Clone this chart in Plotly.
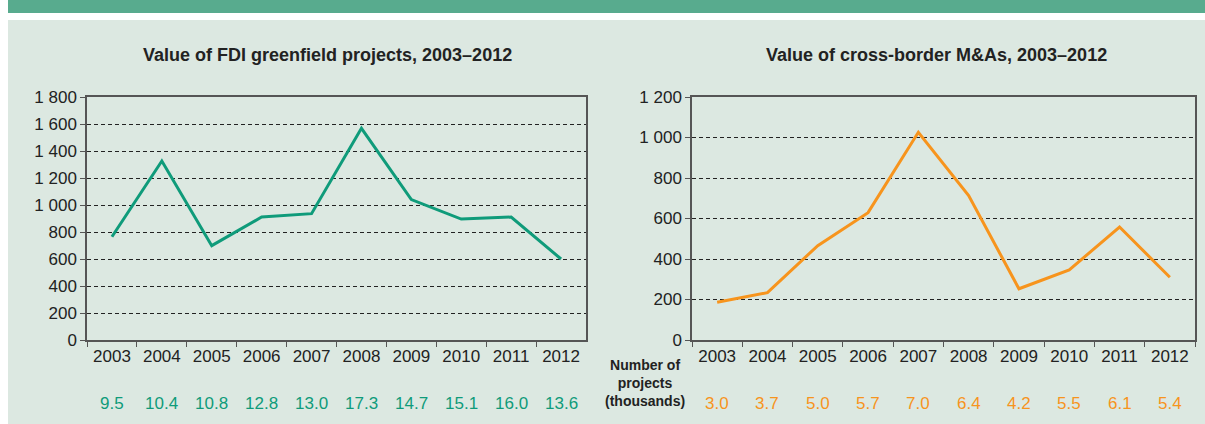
import plotly.graph_objects as go

years = ["2003", "2004", "2005", "2006", "2007", "2008", "2009", "2010", "2011", "2012"]
greenfield_value = [765, 1326, 699, 911, 936, 1568, 1040, 896, 911, 600]
greenfield_projects = ["9.5", "10.4", "10.8", "12.8", "13.0", "17.3", "14.7", "15.1", "16.0", "13.6"]
mna_value = [186, 234, 466, 629, 1026, 713, 253, 346, 558, 310]
mna_projects = ["3.0", "3.7", "5.0", "5.7", "7.0", "6.4", "4.2", "5.5", "6.1", "5.4"]

W, H = 1205, 424
GREEN = "#0f9b7a"
ORANGE = "#f7941d"
PANEL = "#dce8e1"
BAND = "#58ab8e"
FONT = "Liberation Sans, Arial, sans-serif"

def px(x):
    return x / W

def py(y):
    return (H - y) / H

fig = go.Figure()
fig.add_trace(go.Scatter(x=years, y=greenfield_value, mode="lines",
                         line=dict(color=GREEN, width=3), xaxis="x", yaxis="y",
                         showlegend=False, hoverinfo="skip"))
fig.add_trace(go.Scatter(x=years, y=mna_value, mode="lines",
                         line=dict(color=ORANGE, width=3), xaxis="x2", yaxis="y2",
                         showlegend=False, hoverinfo="skip"))

common_x = dict(type="category", categoryorder="array", categoryarray=years,
                range=[-0.5, len(years) - 0.5],
                showline=True, linecolor="#555555", linewidth=1.5,
                mirror=True, ticks="outside", ticklen=5, tickcolor="#555555",
                tickson="boundaries", showgrid=False, zeroline=False, tickangle=0,
                tickfont=dict(family=FONT, size=17, color="#222222"))
common_y = dict(showline=True, linecolor="#555555", linewidth=1.5, mirror=True,
                ticks="outside", ticklen=5, tickcolor="#555555", dtick=200,
                showgrid=True, gridcolor="#222222", gridwidth=1, griddash="4px,3px",
                zeroline=False, tickformat=",d",
                tickfont=dict(family=FONT, size=17, color="#222222"))

fig.update_layout(
    width=W, height=H,
    autosize=False,
    margin=dict(l=0, r=0, t=0, b=0, autoexpand=False),
    paper_bgcolor="white",
    plot_bgcolor="rgba(0,0,0,0)",
    separators=". ",
    xaxis=dict(domain=[px(87), px(586)], anchor="y", **common_x),
    yaxis=dict(domain=[py(340), py(97)], anchor="x", range=[0, 1800], **common_y),
    xaxis2=dict(domain=[px(692), px(1195)], anchor="y2", **common_x),
    yaxis2=dict(domain=[py(340), py(97)], anchor="x2", range=[0, 1200], **common_y),
    shapes=[
        dict(type="rect", xref="paper", yref="paper", x0=px(8), x1=1, y0=py(13), y1=1,
             fillcolor=BAND, line=dict(width=0), layer="below"),
        dict(type="rect", xref="paper", yref="paper", x0=px(8), x1=1, y0=0, y1=py(20),
             fillcolor=PANEL, line=dict(width=0), layer="below"),
    ],
)

ann = [
    dict(text="<b>Value of FDI greenfield projects, 2003–2012</b>", x=px(327), y=py(55),
         xref="paper", yref="paper", showarrow=False, xanchor="center", yanchor="middle",
         font=dict(family=FONT, size=18, color="#222222")),
    dict(text="<b>Value of cross-border M&As, 2003–2012</b>", x=px(936), y=py(55),
         xref="paper", yref="paper", showarrow=False, xanchor="center", yanchor="middle",
         font=dict(family=FONT, size=18, color="#222222")),
    dict(text="<b>Number of<br>projects<br>(thousands)</b>", x=px(645), y=py(383),
         xref="paper", yref="paper", showarrow=False, xanchor="center", yanchor="middle",
         align="center",
         font=dict(family="Liberation Sans Narrow, Arial Narrow, " + FONT, size=14, color="#222222")),
]
for i, t in enumerate(greenfield_projects):
    ann.append(dict(text=t, x=i, xref="x", y=py(403), yref="paper", showarrow=False,
                    xanchor="center", yanchor="middle",
                    font=dict(family=FONT, size=17, color=GREEN)))
for i, t in enumerate(mna_projects):
    ann.append(dict(text=t, x=i, xref="x2", y=py(403), yref="paper", showarrow=False,
                    xanchor="center", yanchor="middle",
                    font=dict(family=FONT, size=17, color=ORANGE)))
fig.update_layout(annotations=ann)

fig.write_html("out.html", config={"displayModeBar": False},
               post_script="document.body.style.margin='0';document.body.style.overflow='hidden';")
